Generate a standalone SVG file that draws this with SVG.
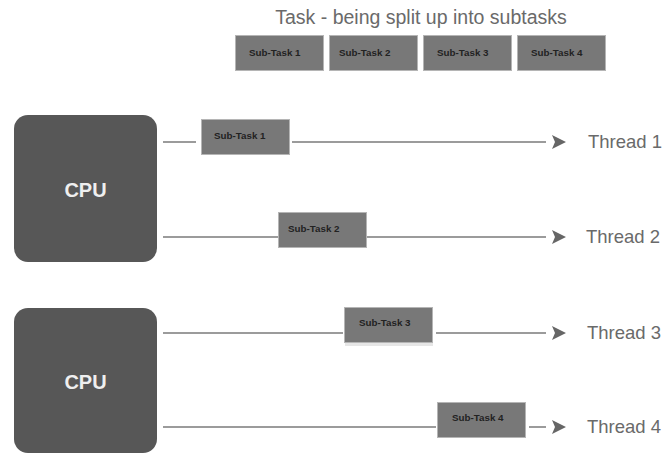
<svg xmlns="http://www.w3.org/2000/svg" width="663" height="454" viewBox="0 0 663 454">
<defs>
<style>
.title{font-family:"Liberation Sans",Arial,sans-serif;font-size:19.5px;fill:#6a6a6a}
.thread{font-family:"Liberation Sans",Arial,sans-serif;font-size:18.5px;fill:#6a6a6a}
.cpu rect{fill:#575757}
.cpu text{font-family:"Liberation Sans",Arial,sans-serif;font-size:20px;font-weight:bold;fill:#efefef;text-anchor:middle}
.sub rect{fill:#787878;stroke:#b5b5b5;stroke-width:1}
.sub rect.mask{fill:#fff;stroke:none}
.sub text{font-family:"Liberation Sans",Arial,sans-serif;font-size:9.8px;font-weight:bold;fill:#222}
.conn line{stroke:#7a7a7a;stroke-width:1.3;fill:none}
</style>
<marker id="arr" markerUnits="userSpaceOnUse" viewBox="0 0 20 14" refX="0" refY="7" markerWidth="20" markerHeight="14" orient="auto">
<path d="M6,0 L20,7 L6,14 L9,7 Z" fill="#666"/>
</marker>
</defs>
<rect width="663" height="454" fill="#fff"/>
<text class="title" x="421" y="24" text-anchor="middle">Task - being split up into subtasks</text>

<g id="top-subtasks" class="sub">
<g id="top-sub1"><rect x="235.5" y="35.5" width="88" height="35"/><text x="249" y="56">Sub-Task 1</text></g>
<g id="top-sub2"><rect x="329.5" y="35.5" width="88" height="35"/><text x="339" y="56">Sub-Task 2</text></g>
<g id="top-sub3"><rect x="423.5" y="35.5" width="88" height="35"/><text x="437" y="56">Sub-Task 3</text></g>
<g id="top-sub4"><rect x="517.5" y="35.5" width="88" height="35"/><text x="531" y="56">Sub-Task 4</text></g>
</g>

<g id="connectors" class="conn">
<line x1="163" y1="142" x2="546" y2="142" marker-end="url(#arr)"/>
<line x1="163" y1="237" x2="546" y2="237" marker-end="url(#arr)"/>
<line x1="163" y1="333" x2="546" y2="333" marker-end="url(#arr)"/>
<line x1="163" y1="427" x2="546" y2="427" marker-end="url(#arr)"/>
</g>

<g id="cpu1" class="cpu"><rect x="14" y="115" width="143" height="147" rx="14"/><text x="85.5" y="197">CPU</text></g>
<g id="cpu2" class="cpu"><rect x="14" y="308" width="143" height="145" rx="14"/><text x="85.5" y="389">CPU</text></g>

<g id="sub1" class="sub"><rect class="mask" x="196" y="119" width="96" height="36"/><rect x="201.5" y="119.5" width="88" height="35"/><text x="214" y="139">Sub-Task 1</text></g>
<g id="sub2" class="sub"><rect x="278.5" y="212.5" width="88" height="35"/><text x="288" y="232">Sub-Task 2</text></g>
<g id="sub3" class="sub"><rect class="mask" x="343" y="307" width="93" height="36"/><rect x="344.5" y="307.5" width="88" height="35"/><rect x="345" y="343" width="88" height="3" style="fill:#e6e6e6;stroke:none"/><text x="359" y="326">Sub-Task 3</text></g>
<g id="sub4" class="sub"><rect class="mask" x="436" y="402" width="93" height="36"/><rect x="437.5" y="402.5" width="88" height="35"/><text x="452" y="421">Sub-Task 4</text></g>

<g id="threads" class="thread">
<text x="588" y="148">Thread 1</text>
<text x="586" y="243">Thread 2</text>
<text x="587" y="339">Thread 3</text>
<text x="587" y="433">Thread 4</text>
</g>
</svg>
